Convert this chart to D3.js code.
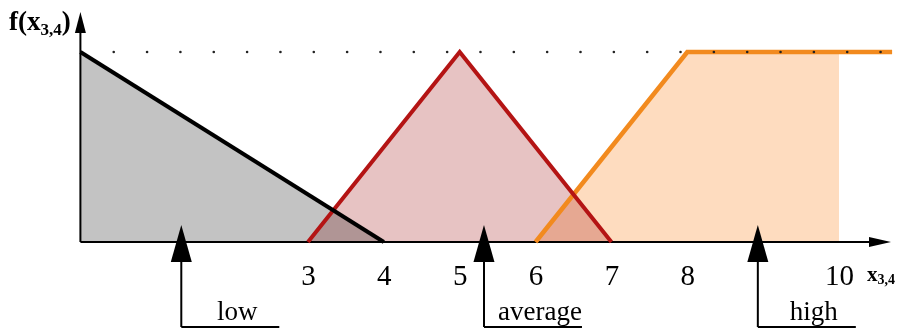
<!DOCTYPE html>
<html><head><meta charset="utf-8">
<script src="https://cdn.jsdelivr.net/npm/d3@7"></script>
<style>
html,body{margin:0;padding:0;background:#fff;}
svg{display:block;}
text{font-family:"Liberation Serif","Times New Roman",serif;fill:#000;}
</style></head>
<body>
<script>
// ---- data ----
const tickValues = [3, 4, 5, 6, 7, 8, 10];
const tickLabels = ["3", "4", "5", "6", "7", "8", "10"];
const lowPoints = [[0, 1], [4, 0]];
const averagePoints = [[3, 0], [5, 1], [7, 0]];
const highLine = [[6, 0], [8, 1], [10.7, 1]];
const highFill = [[6, 0], [8, 1], [10, 1], [10, 0]];
const inputNames = ["low", "average", "high"];
const inputValues = [1.33, 5.32, 8.93];
const dotCount = 24;
const dotStep = 0.4395;

const W = 910, H = 329;
const x = d3.scaleLinear().domain([0, 10]).range([80.4, 839]);
const y = d3.scaleLinear().domain([0, 1]).range([242, 52]);

const svg = d3.select("body").append("svg").attr("width", W).attr("height", H);
const line = d3.line().x(d => x(d[0])).y(d => y(d[1]));

const fills = svg.append("g").style("isolation", "isolate");
fills.append("path").attr("d", line([[0, 0], ...lowPoints, [0, 0]]))
  .attr("fill", "#c3c3c3").style("mix-blend-mode", "multiply");
fills.append("path").attr("d", line(averagePoints) + "Z")
  .attr("fill", "#e7c3c3").style("mix-blend-mode", "multiply");
fills.append("path").attr("d", line(highFill) + "Z")
  .attr("fill", "#fedcbf").style("mix-blend-mode", "multiply");

// x axis
const xAxis = d3.axisBottom(x).tickValues(tickValues).tickFormat((d, i) => tickLabels[i]).tickSize(0).tickPadding(0);
const gx = svg.append("g").attr("transform", `translate(0,${y(0)})`).call(xAxis);
gx.select(".domain").remove();
gx.selectAll("text").attr("dy", null).attr("y", 43)
  .style("font-family", '"Liberation Serif", serif').style("font-size", "29px").attr("fill", "#000");

svg.append("line").attr("x1", x(0)).attr("x2", 872).attr("y1", y(0)).attr("y2", y(0))
  .attr("stroke", "#000").attr("stroke-width", 2);
svg.append("path").attr("d", `M869,${y(0)-5}L891,${y(0)}L869,${y(0)+5}Z`).attr("fill", "#000");

// y axis
svg.append("line").attr("x1", x(0)).attr("x2", x(0)).attr("y1", y(0)).attr("y2", 30)
  .attr("stroke", "#000").attr("stroke-width", 2);
svg.append("path").attr("d", `M${x(0)-5.5},33L${x(0)},12L${x(0)+5.5},33Z`).attr("fill", "#000");

// strokes
svg.append("path").attr("d", line(highLine)).attr("fill", "none")
  .attr("stroke", "#f28a1e").attr("stroke-width", 4.5).attr("stroke-linejoin", "miter");
svg.append("path").attr("d", line(averagePoints)).attr("fill", "none")
  .attr("stroke", "#b41414").attr("stroke-width", 4);
svg.append("path").attr("d", line(lowPoints)).attr("fill", "none")
  .attr("stroke", "#000").attr("stroke-width", 4);

// dotted level line
svg.append("g").selectAll("circle").data(d3.range(1, dotCount + 1)).join("circle")
  .attr("cx", d => x(d * dotStep)).attr("cy", y(1)).attr("r", 1.3).attr("fill", "#222");

// input arrows with labels
const inp = svg.append("g").selectAll("g").data(inputValues).join("g")
  .attr("transform", d => `translate(${x(d)},0)`);
inp.append("path").attr("d", "M0,327V258").attr("stroke", "#000").attr("stroke-width", 2).attr("fill", "none");
inp.append("path").attr("d", "M0,327H98").attr("stroke", "#000").attr("stroke-width", 2).attr("fill", "none");
inp.append("path").attr("d", "M-10.5,262L0,225L10.5,262Z").attr("fill", "#000");
inp.append("text").attr("x", 56).attr("y", 320).attr("text-anchor", "middle")
  .style("font-size", "27px").text((d, i) => inputNames[i]);

// axis titles
const yt = svg.append("text").attr("x", 9).attr("y", 30).style("font-weight", "bold").style("font-size", "27px");
yt.append("tspan").text("f(x");
yt.append("tspan").attr("dy", 5).style("font-size", "17px").text("3,4");
yt.append("tspan").attr("dy", -5).text(")");

const xt = svg.append("text").attr("x", 867).attr("y", 281).style("font-weight", "bold").style("font-size", "21px");
xt.append("tspan").text("x");
xt.append("tspan").attr("dy", 3).style("font-size", "14px").text("3,4");
</script>
</body></html>
